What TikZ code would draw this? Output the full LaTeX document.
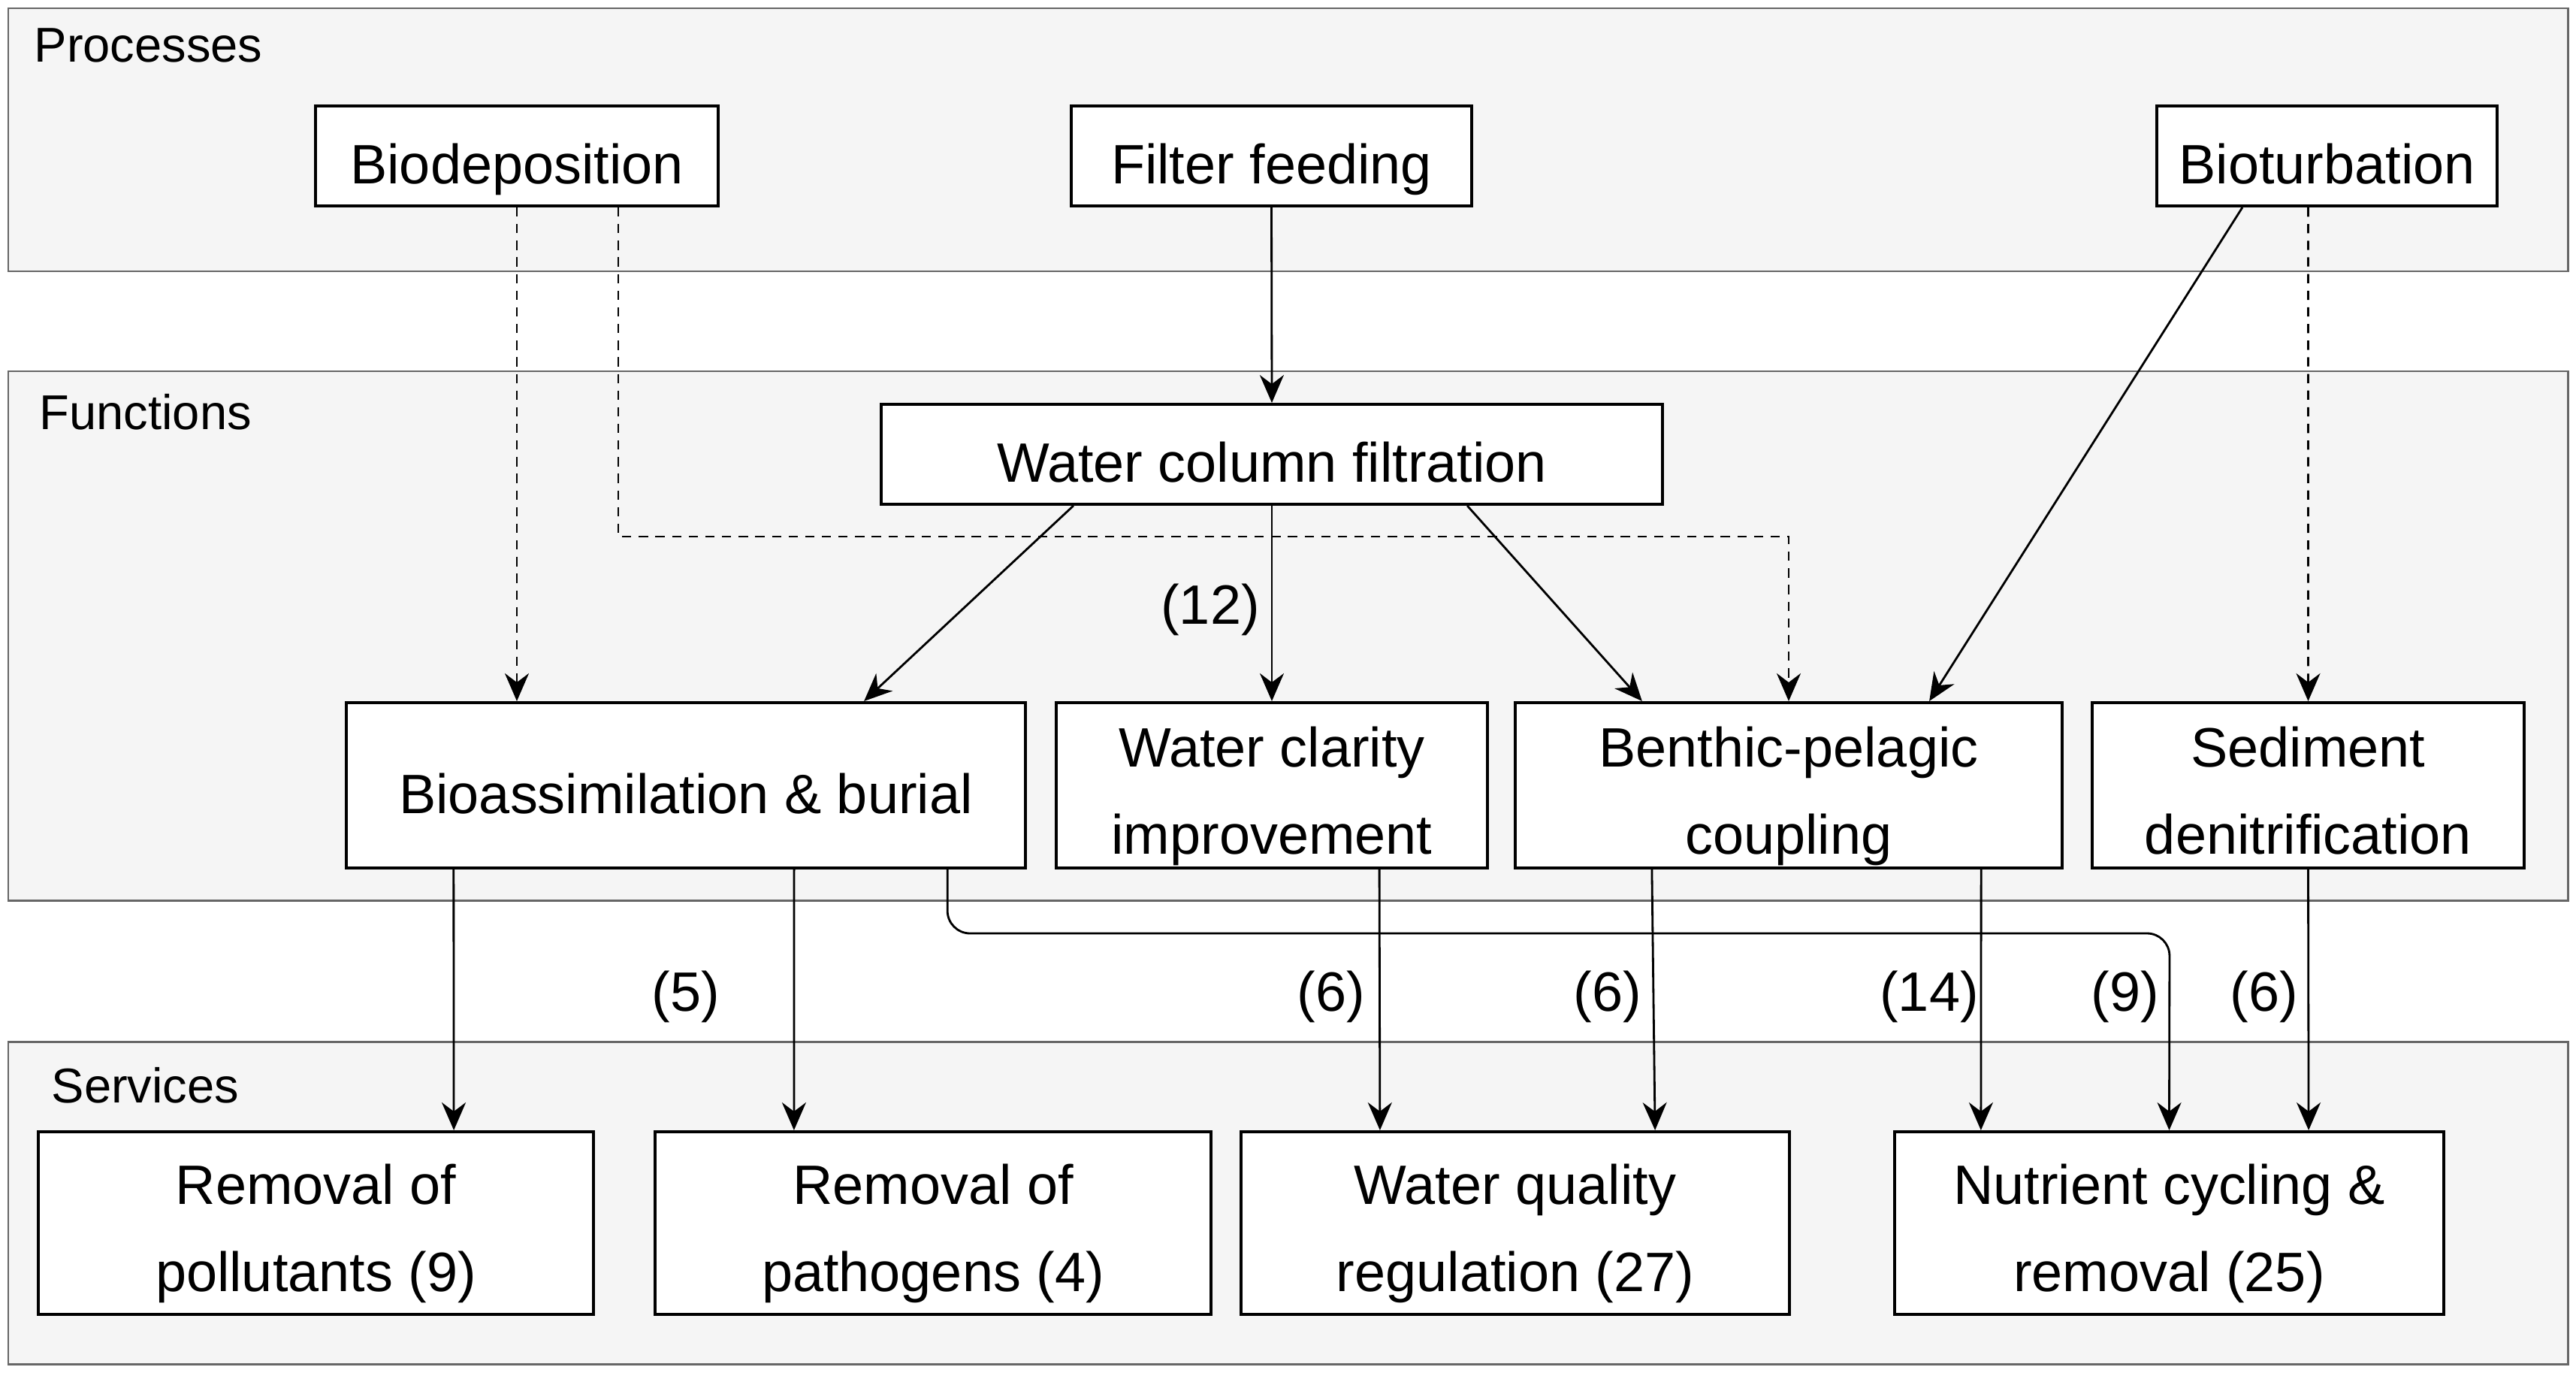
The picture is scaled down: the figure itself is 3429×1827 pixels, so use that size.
\documentclass[tikz,border=0pt]{standalone}
\usepackage{fontspec}
\setmainfont{Liberation Sans}
\usetikzlibrary{arrows.meta}
\definecolor{panelfill}{HTML}{F5F5F5}
\definecolor{panelline}{HTML}{666666}

\begin{document}
\begin{tikzpicture}[
                    x=0.01cm, y=-0.01cm,
                    every node/.style={font=\fontsize{21}{33}\selectfont},
                    box/.style={draw, line width=1.1pt, fill=white, inner sep=0pt, align=center, text height=0.74cm, text depth=0cm},
                    twoline/.style={box, text height=1.95cm, text depth=0.13cm},
                    panel/.style={draw=panelline, fill=panelfill, line width=0.85pt},
                    paneltitle/.style={anchor=west, inner sep=0pt, font=\fontsize{18.5}{22}\selectfont},
                    count/.style={inner sep=0pt},
                    arr/.style={-{Stealth[length=0.37cm, width=0.32cm, inset=0.12cm]}, line width=0.8pt},
                    dep/.style={arr, dash pattern=on 3.5pt off 2.8pt}
                ]
                \useasboundingbox (0,0) rectangle (3429,1827);
                % the three layers
                \draw[panel] (11,11) rectangle (3418,361);
                \draw[panel] (11,494) rectangle (3418,1198);
                \draw[panel] (11,1386) rectangle (3418,1815);
                \node[paneltitle] at (45,60) {Processes};
                \node[paneltitle] at (52,548) {Functions};
                \node[paneltitle] at (68,1444) {Services};

                % processes
                \node[box, minimum width=5.36cm, minimum height=1.33cm] (biodep) at (688,207.5) {Biodeposition};
                \node[box, minimum width=5.33cm, minimum height=1.33cm] (filter) at (1692.5,207.5) {Filter feeding};
                \node[box, minimum width=4.53cm, minimum height=1.33cm] (bioturb) at (3097.5,207.5) {Bioturbation};

                % functions
                \node[box, minimum width=10.40cm, minimum height=1.33cm] (wcf) at (1693,604.5) {Water column filtration};
                \node[box, minimum width=9.04cm, minimum height=2.20cm] (bioassim) at (913,1045) {Bioassimilation \& burial};
                \node[twoline, minimum width=5.74cm, minimum height=2.20cm] (clarity) at (1693,1045) {Water clarity\\improvement};
                \node[twoline, minimum width=7.28cm, minimum height=2.20cm] (benthic) at (2381,1045) {Benthic-pelagic\\coupling};
                \node[twoline, minimum width=5.75cm, minimum height=2.20cm] (sediment) at (3072.5,1045) {Sediment\\denitrification};

                % services
                \node[twoline, minimum width=7.39cm, minimum height=2.43cm] (pollut) at (420.5,1627.5) {Removal of\\pollutants (9)};
                \node[twoline, minimum width=7.40cm, minimum height=2.43cm] (pathog) at (1242,1627.5) {Removal of\\pathogens (4)};
                \node[twoline, minimum width=7.30cm, minimum height=2.43cm] (wqual) at (2017,1627.5) {Water quality\\regulation (27)};
                \node[twoline, minimum width=7.31cm, minimum height=2.43cm] (nutrient) at (2887.5,1627.5) {Nutrient cycling \&\\removal (25)};

                \coordinate (depbend) at (2381,714);
                \coordinate (burbend) at (2888,1242);

                % processes -> functions
                \draw[dep] (biodep.south) -- (biodep.south |- bioassim.north);
                \draw[dep] ([xshift=1.35cm]biodep.south) |- (depbend) -- (benthic.north);
                \draw[arr] (filter.south) -- (wcf.north);
                \draw[arr] ([xshift=-1.125cm]bioturb.south) -- ([xshift=1.87cm]benthic.north);
                \draw[dep] ([xshift=-0.25cm]bioturb.south) -- (sediment.north);

                % within functions
                \draw[arr] ([xshift=-2.64cm]wcf.south) -- ([xshift=2.37cm]bioassim.north);
                \draw[arr] (wcf.south) -- (clarity.north);
                \draw[arr] ([xshift=2.60cm]wcf.south) -- ([xshift=-1.95cm]benthic.north);

                % functions -> services
                \draw[arr] ([xshift=-3.09cm]bioassim.south) -- ([xshift=1.835cm]pollut.north);
                \draw[arr] ([xshift=1.44cm]bioassim.south) -- ([xshift=-1.85cm]pathog.north);
                \draw[arr, rounded corners=0.3cm] ([xshift=3.48cm]bioassim.south) |- (burbend) -- (nutrient.north);
                \draw[arr] ([xshift=1.43cm]clarity.south) -- ([xshift=-1.80cm]wqual.north);
                \draw[arr] ([xshift=-1.82cm]benthic.south) -- ([xshift=1.86cm]wqual.north);
                \draw[arr] ([xshift=2.56cm]benthic.south) -- ([xshift=-2.505cm]nutrient.north);
                \draw[arr] (sediment.south) -- ([xshift=1.855cm]nutrient.north);

                % study counts
                \node[count] (n12) at (1611,811) {(12)};
                \node[count] (n5) at (913,1326) {(5)};
                \node[count] (n6a) at (1772,1326) {(6)};
                \node[count] (n6b) at (2140,1326) {(6)};
                \node[count] (n14) at (2568,1326) {(14)};
                \node[count] (n9) at (2829,1326) {(9)};
                \node[count] (n6c) at (3014,1326) {(6)};
\end{tikzpicture}
\end{document}
